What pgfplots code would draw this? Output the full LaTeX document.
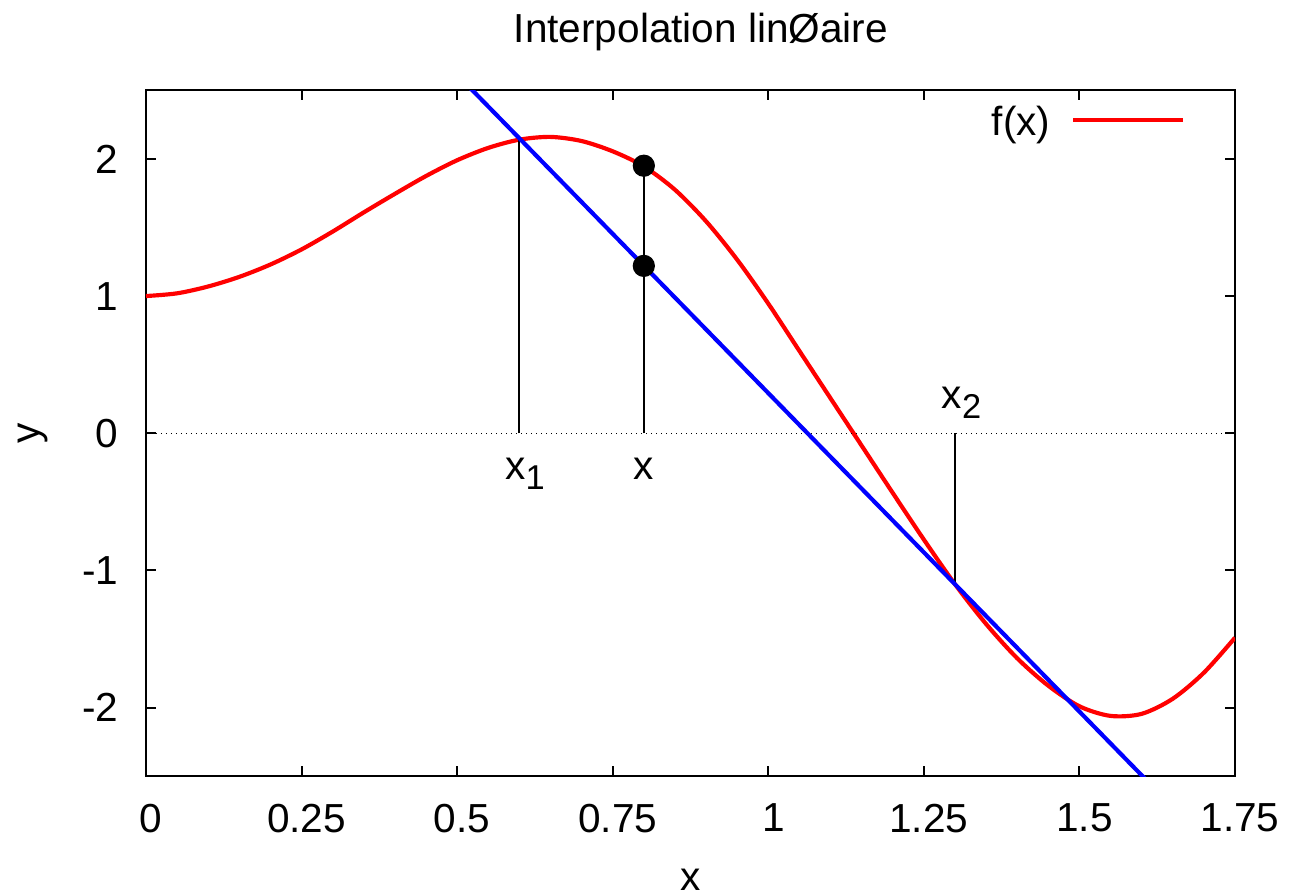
\documentclass[border=0pt]{standalone}
\usepackage{fontspec}
\setmainfont{Liberation Sans}
\usepackage{pgfplots}
\pgfplotsset{compat=1.18}
\pgfplotstableread{
x y
0 1.00
0.05 1.02
0.1 1.07
0.15 1.14
0.2 1.23
0.25 1.34
0.3 1.47
0.35 1.61
0.4 1.745
0.45 1.875
0.5 1.99
0.55 2.08
0.6 2.14
0.65 2.16
0.7 2.13
0.75 2.055
0.8 1.945
0.85 1.775
0.9 1.545
0.95 1.265
1.0 0.945
1.05 0.60
1.1 0.255
1.15 -0.09
1.2 -0.435
1.25 -0.775
1.3 -1.10
1.35 -1.39
1.4 -1.64
1.45 -1.84
1.5 -1.99
1.55 -2.06
1.6 -2.045
1.65 -1.935
1.7 -1.745
1.75 -1.49
}\fdata
\begin{document}
\begin{tikzpicture}[font=\fontsize{14.6}{17.5}\selectfont]
\begin{axis}[
  at={(0,0)}, anchor=south west,
  scale only axis, width=392.04pt, height=246.96pt,
  xmin=0, xmax=1.75, ymin=-2.5, ymax=2.5,
  axis line style={line width=0.7pt, black},
  xtick={0,0.25,0.5,0.75,1,1.25,1.5,1.75},
  xticklabels={0,0.25,0.5,0.75,1,1.25,1.5,1.75},
  ytick={-2,-1,0,1,2},
  yticklabels={-2,-1,0,1,2},
  tick align=inside, major tick length=3.6pt,
  tick style={line width=0.7pt, black},
  xticklabel style={inner sep=0pt, anchor=north, yshift=-9.8pt, xshift=1.8pt},
  yticklabel style={inner sep=0pt, anchor=east, xshift=-9.7pt},
  title={Interpolation linØaire},
  title style={at={(axis description cs:0.5096,1.0685)}, anchor=base, inner sep=0pt, yshift=-5.8pt},
  xlabel={x},
  xlabel style={at={(axis description cs:0.5,-0.1706)}, anchor=base, inner sep=0pt, yshift=1pt},
  ylabel={y},
  ylabel style={at={(axis description cs:-0.1038,0.5)}, anchor=center, inner sep=0pt},
  legend plot pos=right,
  legend style={draw=none, fill=none, at={(axis description cs:0.955,0.953)}, anchor=east,
    inner sep=0pt, column sep=7.5pt, nodes={inner sep=0pt}},
  legend image code/.code={\draw[#1] (0pt,0.1em) -- (39.6pt,0.1em);},
]
\addplot[red, line width=1.5pt, smooth] table[x=x,y=y]{\fdata};
\addlegendentry{f(x)}
\addplot[forget plot, black, line width=0.4pt, dash pattern=on 0.5pt off 1.3pt] coordinates {(0,0) (1.75,0)};
\addplot[forget plot, black, line width=0.7pt] coordinates {(0.6,0) (0.6,2.15)};
\addplot[forget plot, black, line width=0.7pt] coordinates {(0.8,0) (0.8,1.95)};
\addplot[forget plot, black, line width=0.7pt] coordinates {(1.3,0) (1.3,-1.10)};
\addplot[forget plot, blue, line width=1.5pt] coordinates {(0.5,2.614) (1.65,-2.725)};
\addplot[forget plot, only marks, mark=*, mark size=3.8pt, black] coordinates {(0.8,1.95) (0.8,1.22)};
\node[anchor=base] at (axis cs:0.609,-0.34) {x\raisebox{-3.6pt}{\fontsize{12.4}{14}\selectfont 1}};
\node[anchor=base] at (axis cs:0.8,-0.34) {x};
\node[anchor=base] at (axis cs:1.3105,0.177) {x\raisebox{-3.6pt}{\fontsize{12.4}{14}\selectfont 2}};
\end{axis}
\pgfresetboundingbox
\path ([xshift=-52.56pt,yshift=-43.1pt]current axis.south west) rectangle ([xshift=20.88pt,yshift=32.5pt]current axis.north east);
\end{tikzpicture}
\end{document}
